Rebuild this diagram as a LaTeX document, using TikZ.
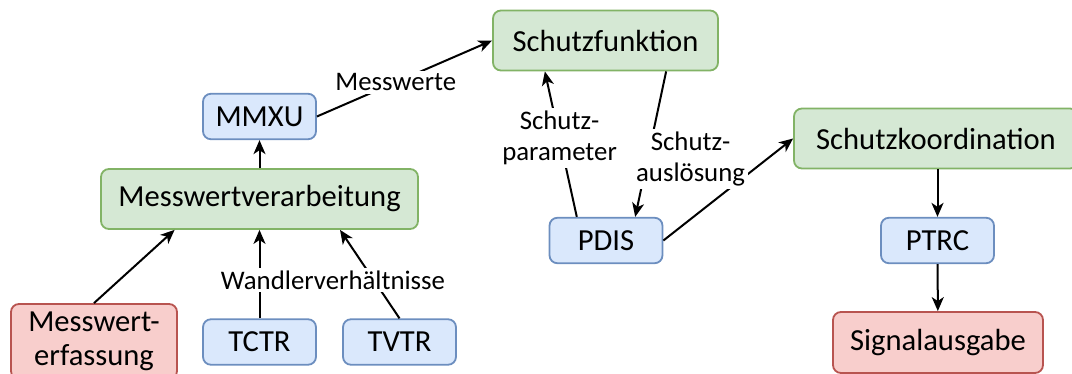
\documentclass[tikz,border=0pt]{standalone}
\usepackage{fontspec}
\setmainfont{Carlito}
\usetikzlibrary{arrows.meta}
\definecolor{node_green}{RGB}{213,232,212}
\definecolor{edge_green}{RGB}{130,179,102}
\definecolor{node_blue}{RGB}{218,232,252}
\definecolor{edge_blue}{RGB}{108,142,191}
\definecolor{node_red}{RGB}{248,206,204}
\definecolor{edge_red}{RGB}{184,84,80}

\begin{document}
\begin{tikzpicture}[-{Stealth[length=7pt,width=6pt,inset=2pt]},line width=1pt,x=0.5pt,y=-0.5pt]
    \tikzstyle{box}=[draw, rounded corners=4pt, inner sep=0pt, align=center, line width=0.9pt, text=black, font=\fontsize{15.3}{17}\selectfont]
    \tikzstyle{fn}=[style=box, fill=node_green, draw=edge_green, minimum height=30pt]
    \tikzstyle{ln}=[style=box, fill=node_blue, draw=edge_blue, minimum width=56.5pt, minimum height=22.75pt]
    \tikzstyle{io}=[style=box, fill=node_red, draw=edge_red]
    \tikzstyle{lbl}=[fill=white, inner sep=1.5pt, align=center, font=\fontsize{13.4}{15.5}\selectfont]

    \useasboundingbox (0,0) rectangle (1072,374);

    \node[fn, minimum width=112.5pt]             (sf)   at (605.5,40.5)  {Schutzfunktion};
    \node[ln]                                    (mmxu) at (259.5,116.5) {MMXU};
    \node[fn, minimum width=158.5pt]             (mwv)  at (259.5,199)   {Messwertverarbeitung};
    \node[io, minimum width=83pt, minimum height=37.5pt] (mwe) at (94,341.5) {Messwert-\\erfassung};
    \node[ln]                                    (tctr) at (259.5,342)   {TCTR};
    \node[ln]                                    (tvtr) at (399.5,342)   {TVTR};
    \node[ln]                                    (pdis) at (606,240.5)   {PDIS};
    \node[fn, minimum width=142pt]               (sk)   at (936,138.5)   {Schutzkoordination};
    \node[ln]                                    (ptrc) at (937.5,240.5) {PTRC};
    \node[io, minimum width=105pt, minimum height=30.5pt] (sig) at (938,342.5) {Signalausgabe};

    \path
     (mwe.north) edge (mwv.200)
     (mwv) edge (mmxu)
     (tctr) edge (mwv)
     (tvtr.north) edge (mwv.339)
     (mmxu.east) edge node[lbl, pos=0.45] {Messwerte} (sf.west)
     (pdis.141) edge node[lbl, pos=0.54] {Schutz-\\parameter} (sf.207)
     (pdis.east) edge (sk.west)
     (sf.333) edge node[lbl, pos=0.6, xshift=21.5pt] {Schutz-\\auslösung} (pdis.39)
     (sk.south -| ptrc) edge (ptrc)
     (ptrc) edge (sig)
     ;

    \node[lbl] (wv) at (333,280) {Wandlerverhältnisse};
\end{tikzpicture}
\end{document}
